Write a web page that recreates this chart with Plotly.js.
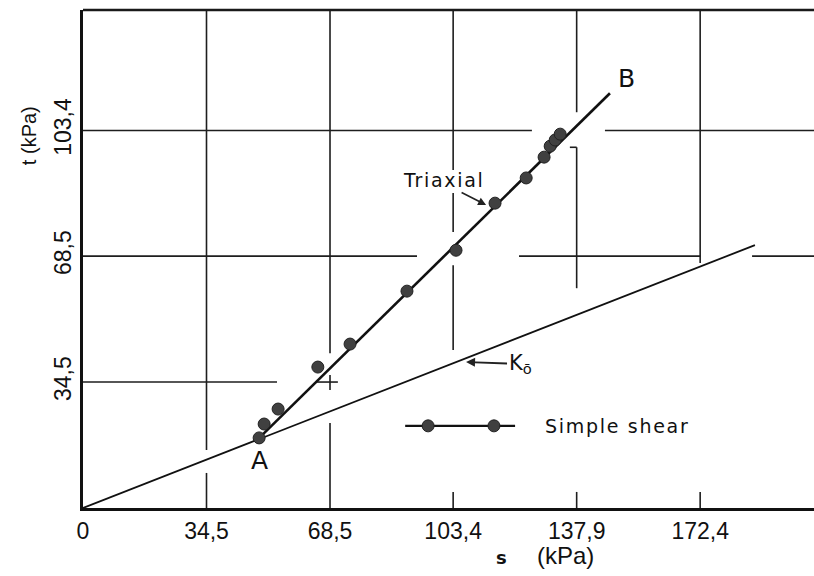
<!DOCTYPE html>
<html><head><meta charset="utf-8">
<script src="https://cdn.plot.ly/plotly-3.0.1.min.js"></script>
<style>html,body{margin:0;padding:0;background:#fff}</style>
</head><body>
<div id="chart" style="width:814px;height:576px"></div>
<script>
// ---- data (kPa) ----
const sValues = [49.2, 50.6, 54.5, 65.6, 74.6, 90.5, 104.2, 115.1, 123.8, 128.8, 130.5, 131.9, 133.3];
const tValues = [19.2, 23.0, 27.1, 38.6, 44.9, 59.4, 70.6, 83.5, 90.4, 96.1, 99.1, 100.8, 102.4];
const abLineS = [48.6, 147.2];
const abLineT = [18.6, 113.6];
const k0LineS = [0, 187.7];
const k0LineT = [0, 72.0];
const xTickVals = [0, 34.5, 69, 103.4, 137.9, 172.4];
const xTickText = ['0', '34,5', '68,5', '103,4', '137,9', '172,4'];
const yTickVals = [34.5, 69, 103.4];
const yTickText = ['34,5', '68,5', '103,4'];

// ---- layout decoration (broken grid lines as in the original drawing) ----
const X_MAX = 204.2, Y_MAX = 136.4;
const vGrid = [
  [34.5, [[15.9, Y_MAX], [0, 9.6]]],
  [69, [[42.4, Y_MAX], [32.3, 36.4], [0, 23.3]]],
  [103.4, [[92.6, Y_MAX], [75.6, 86.3], [43.3, 66.5], [0, 4.4]]],
  [137.9, [[108.4, Y_MAX], [60.2, 98.8], [0, 4.4]]],
  [172.4, [[67.1, Y_MAX], [0, 4.4]]]
];
const hGrid = [
  [34.5, [[0, 54.2], [65.4, 71.2]]],
  [69, [[0, 93.3], [121.8, 172.4], [186.9, X_MAX]]],
  [103.4, [[0, 125.4], [145.8, X_MAX]]],
  [98.8, [[136.0, 137.9]]]
];
const GRID = {color: '#1e1e1e', width: 1.6};
const shapes = [];
vGrid.forEach(([x, segs]) => segs.forEach(([a, b]) => shapes.push({type: 'line', xref: 'x', yref: 'y', x0: x, x1: x, y0: a, y1: b, line: GRID, layer: 'below'})));
hGrid.forEach(([y, segs]) => segs.forEach(([a, b]) => shapes.push({type: 'line', xref: 'x', yref: 'y', x0: a, x1: b, y0: y, y1: y, line: GRID, layer: 'below'})));
shapes.push({type: 'line', xref: 'paper', yref: 'paper', x0: 0, x1: 1, y0: 1, y1: 1, line: {color: '#1a1a1a', width: 2.6}});

// legend sample (drawn inside the plot like the original)
const legendLineS = [90.0, 120.7], legendMarkS = [96.4, 114.8], legendT = 22.5;

const MARK = {color: '#404040', size: 12, line: {color: '#222', width: 1}};
const traces = [
  {x: k0LineS, y: k0LineT, mode: 'lines', line: {color: '#111', width: 1.8}, hoverinfo: 'skip', showlegend: false},
  {x: abLineS, y: abLineT, mode: 'lines', line: {color: '#111', width: 2.6}, hoverinfo: 'skip', showlegend: false},
  {x: sValues, y: tValues, mode: 'markers', marker: MARK, name: 'Simple shear', showlegend: false},
  {x: legendLineS, y: [legendT, legendT], mode: 'lines', line: {color: '#111', width: 2.2}, hoverinfo: 'skip', showlegend: false},
  {x: legendMarkS, y: [legendT, legendT], mode: 'markers', marker: MARK, hoverinfo: 'skip', showlegend: false}
];

const LBL = 'DejaVu Sans, sans-serif';
const ARL = 'Liberation Sans, Arial, sans-serif';
const annotations = [
  {x: 112.6, y: 83.0, ax: -49, ay: -25, text: 'Triaxial', align: 'left', showarrow: true, arrowhead: 2, arrowsize: 1, arrowwidth: 1.6, arrowcolor: '#222', standoff: 0, font: {family: LBL, size: 19, color: '#111'}},
  {x: 128.5, y: legendT, text: 'Simple shear', xanchor: 'left', yanchor: 'middle', align: 'left', showarrow: false, font: {family: LBL, size: 19, color: '#111'}},
  {x: 49.4, y: 12.9, text: 'A', showarrow: false, font: {family: LBL, size: 25, color: '#111'}},
  {x: 151.7, y: 117.7, text: 'B', showarrow: false, font: {family: LBL, size: 25, color: '#111'}},
  {x: 107.0, y: 40.0, ax: 54, ay: 2, text: 'K<sub>ō</sub>', showarrow: true, arrowhead: 2, arrowsize: 1, arrowwidth: 1.8, arrowcolor: '#222', font: {family: LBL, size: 21, color: '#111'}},
  {x: 117.0, xref: 'x', y: -0.1, yref: 'paper', xanchor: 'center', yanchor: 'middle', text: '<b>s</b>', showarrow: false, font: {family: LBL, size: 18, color: '#111'}},
  {x: 134.9, xref: 'x', y: -0.096, yref: 'paper', xanchor: 'center', yanchor: 'middle', text: '(kPa)', showarrow: false, font: {family: ARL, size: 24, color: '#111'}},
  {x: -0.074, xref: 'paper', y: 102.1, yref: 'y', xanchor: 'center', yanchor: 'middle', text: 't (kPa)', textangle: -90, showarrow: false, font: {family: ARL, size: 20, color: '#111'}}
];

const layout = {
  width: 814, height: 576,
  margin: {l: 83, r: 0, t: 10, b: 68},
  paper_bgcolor: '#fff', plot_bgcolor: '#fff',
  showlegend: false,
  xaxis: {range: [0, X_MAX], showgrid: false, zeroline: false, showline: true, linewidth: 3, linecolor: '#111',
          tickmode: 'array', tickvals: xTickVals, ticktext: xTickText, ticks: '',
          tickfont: {family: ARL, size: 23, color: '#111'}},
  yaxis: {range: [0, Y_MAX], showgrid: false, zeroline: false, showline: true, linewidth: 3, linecolor: '#111',
          tickmode: 'array', tickvals: yTickVals, ticktext: yTickText, ticks: '', tickangle: -90,
          tickfont: {family: ARL, size: 23, color: '#111'}},
  shapes: shapes,
  annotations: annotations
};

Plotly.newPlot('chart', traces, layout, {displayModeBar: false, staticPlot: true}).then(gd => {
  gd.querySelectorAll('text.annotation-text').forEach(t => {
    if (t.textContent === 'Triaxial' || t.textContent === 'Simple shear') t.style.letterSpacing = '1.7px';
  });
  // drop empty placeholder text nodes (unused title slots)
  gd.querySelectorAll('text').forEach(t => { if (!t.textContent.trim()) t.remove(); });
});
</script>
</body></html>
